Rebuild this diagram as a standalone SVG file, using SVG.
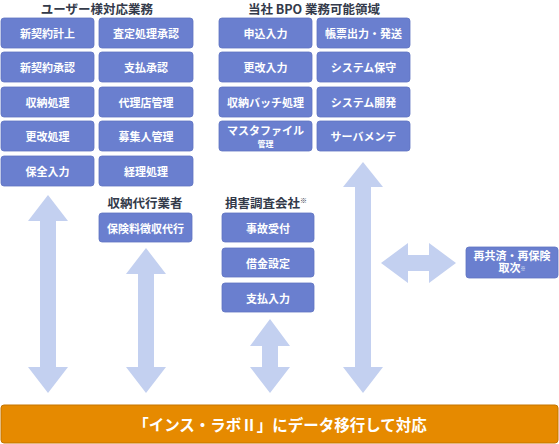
<svg xmlns="http://www.w3.org/2000/svg" width="559" height="444" viewBox="0 0 559 444">
<style>
.t{font-family:"Noto Sans CJK JP","Noto Sans",sans-serif;font-weight:bold;fill:#333a4a;font-size:12.5px;text-anchor:middle}
.b rect{fill:#6a7fcf;stroke:#5f73c2;stroke-width:0.8}
.b text{font-family:"Noto Sans CJK JP","Noto Sans",sans-serif;font-weight:bold;fill:#fff;font-size:11px;text-anchor:middle;dominant-baseline:central}
.b text.s{dominant-baseline:auto}
.ar{fill:#c3d0f0}
</style>
<rect width="559" height="444" fill="#fff"/>
<text class="t" x="97" y="13.5">ユーザー様対応業務</text>
<text class="t" x="314" y="13.5">当社 BPO 業務可能領域</text>
<text class="t" x="145" y="208">収納代行業者</text>
<text class="t" x="266" y="208">損害調査会社<tspan font-size="7" dy="-5">※</tspan></text>

<g id="connectors">
<polygon class="ar" points="48,195 68,221 56,221 56,367 68,367 48,393 28,367 40,367 40,221 28,221"/>
<polygon class="ar" points="146,248 166,274 154,274 154,367 166,367 146,393 126,367 138,367 138,274 126,274"/>
<polygon class="ar" points="270,319 290,346 278,346 278,367 290,367 270,393 250,367 262,367 262,346 250,346"/>
<polygon class="ar" points="363,162 383,187 371,187 371,367 383,367 363,393 343,367 355,367 355,187 343,187"/>
<polygon class="ar" points="381,263 408,243 408,255 429,255 429,243 456,263 429,283 429,271 408,271 408,283"/>
</g>

<g id="n1" class="b"><rect x="1" y="18" width="93" height="30" rx="3"/><text x="47.5" y="33">新契約計上</text></g>
<g id="n2" class="b"><rect x="99" y="18" width="94" height="30" rx="3"/><text x="146" y="33">査定処理承認</text></g>
<g id="n3" class="b"><rect x="1" y="52" width="93" height="30" rx="3"/><text x="47.5" y="67">新契約承認</text></g>
<g id="n4" class="b"><rect x="99" y="52" width="94" height="30" rx="3"/><text x="146" y="67">支払承認</text></g>
<g id="n5" class="b"><rect x="1" y="87" width="93" height="30" rx="3"/><text x="47.5" y="102">収納処理</text></g>
<g id="n6" class="b"><rect x="99" y="87" width="94" height="30" rx="3"/><text x="146" y="102">代理店管理</text></g>
<g id="n7" class="b"><rect x="1" y="121" width="93" height="30" rx="3"/><text x="47.5" y="136">更改処理</text></g>
<g id="n8" class="b"><rect x="99" y="121" width="94" height="30" rx="3"/><text x="146" y="136">募集人管理</text></g>
<g id="n9" class="b"><rect x="1" y="156" width="93" height="30" rx="3"/><text x="47.5" y="171">保全入力</text></g>
<g id="n10" class="b"><rect x="99" y="156" width="94" height="30" rx="3"/><text x="146" y="171">経理処理</text></g>

<g id="m1" class="b"><rect x="219" y="18" width="93" height="30" rx="3"/><text x="265.5" y="33">申込入力</text></g>
<g id="m2" class="b"><rect x="317" y="18" width="93" height="30" rx="3"/><text x="363.5" y="33">帳票出力・発送</text></g>
<g id="m3" class="b"><rect x="219" y="52" width="93" height="30" rx="3"/><text x="265.5" y="67">更改入力</text></g>
<g id="m4" class="b"><rect x="317" y="52" width="93" height="30" rx="3"/><text x="363.5" y="67">システム保守</text></g>
<g id="m5" class="b"><rect x="219" y="87" width="93" height="30" rx="3"/><text x="265.5" y="102">収納バッチ処理</text></g>
<g id="m6" class="b"><rect x="317" y="87" width="93" height="30" rx="3"/><text x="363.5" y="102">システム開発</text></g>
<g id="m7" class="b"><rect x="219" y="121" width="93" height="30" rx="3"/><text class="s" x="265.5" y="134.5" font-size="9">マスタファイル<tspan x="265.5" dy="12" font-size="8">管理</tspan></text></g>
<g id="m8" class="b"><rect x="317" y="121" width="93" height="30" rx="3"/><text x="363.5" y="136">サーバメンテ</text></g>

<g id="s1" class="b"><rect x="99" y="213" width="93" height="29" rx="3"/><text x="145.5" y="227.5" font-size="10.5">保険料徴収代行</text></g>

<g id="d1" class="b"><rect x="222" y="213" width="92" height="29" rx="3"/><text x="268" y="227.5">事故受付</text></g>
<g id="d2" class="b"><rect x="222" y="248" width="92" height="29" rx="3"/><text x="268" y="262.5">借金設定</text></g>
<g id="d3" class="b"><rect x="222" y="283" width="92" height="29" rx="3"/><text x="268" y="297.5">支払入力</text></g>

<g id="r1" class="b"><rect x="466" y="247" width="92" height="31" rx="3"/><text class="s" x="512" y="259.5" font-size="8">再共済・再保険<tspan x="512" dy="12.5">取次</tspan><tspan font-size="5" dy="-2">※</tspan></text></g>

<g id="base"><rect x="1" y="405" width="557" height="38" rx="3" fill="#e68a00" stroke="#c47400" stroke-width="1"/><text x="280" y="424" font-family="Noto Sans CJK JP,Noto Sans,sans-serif" font-weight="bold" font-size="15.5" fill="#fff" text-anchor="middle" dominant-baseline="central">「インス・ラボⅡ」にデータ移行して対応</text></g>
</svg>
